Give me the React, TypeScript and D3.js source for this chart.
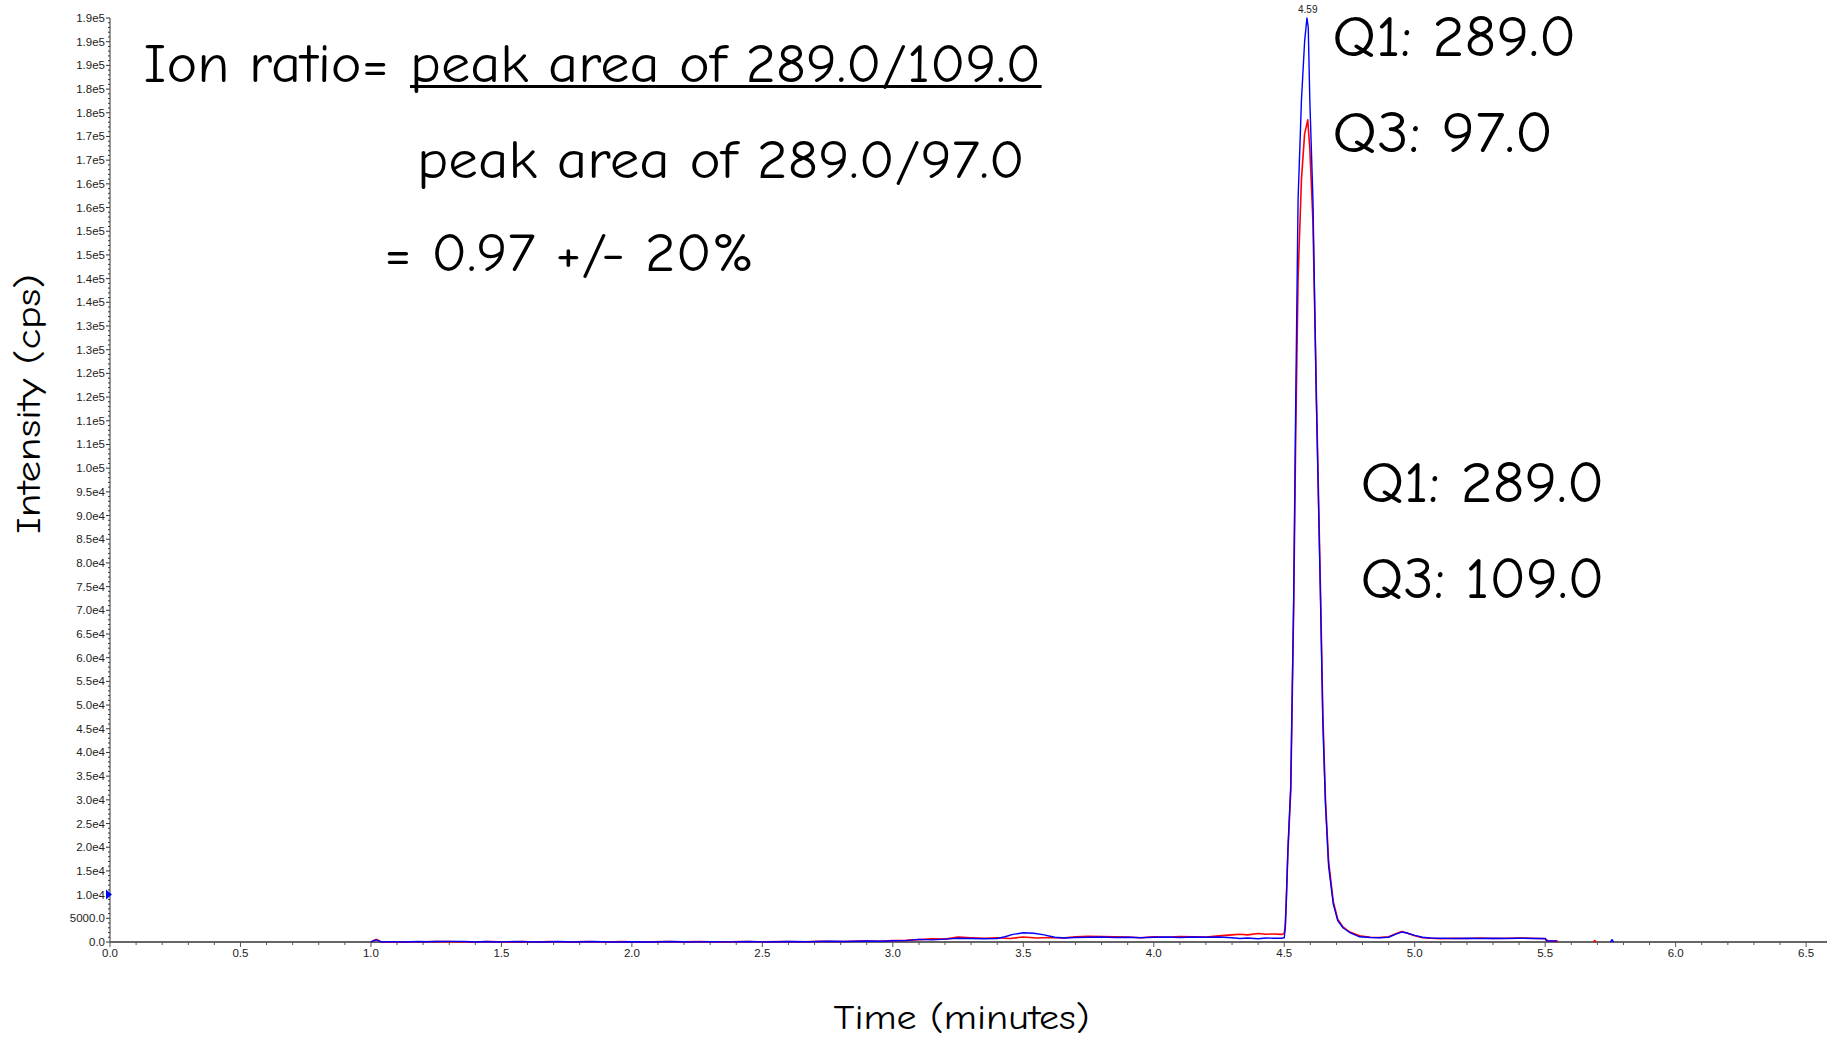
import React from 'react';
import * as d3 from 'd3';

type Pt = [number, number | null];

// Y tick labels (one every 5000 cps), as printed by the instrument software
const yTickLabels = [
  '0.0', '5000.0', '1.0e4', '1.5e4', '2.0e4', '2.5e4', '3.0e4', '3.5e4', '4.0e4', '4.5e4',
  '5.0e4', '5.5e4', '6.0e4', '6.5e4', '7.0e4', '7.5e4', '8.0e4', '8.5e4', '9.0e4', '9.5e4',
  '1.0e5', '1.1e5', '1.1e5', '1.2e5', '1.2e5', '1.3e5', '1.3e5', '1.4e5', '1.4e5', '1.5e5',
  '1.5e5', '1.6e5', '1.6e5', '1.7e5', '1.7e5', '1.8e5', '1.8e5', '1.9e5', '1.9e5', '1.9e5',
];
const yTickStep = 5000;
const xTickLabels = ['0.0', '0.5', '1.0', '1.5', '2.0', '2.5', '3.0', '3.5', '4.0', '4.5', '5.0', '5.5', '6.0', '6.5'];

// Blue trace: Q1 289.0 / Q3 97.0
const blueTrace: Pt[] = [
  [1.00, 0], [1.01, 250], [1.02, 450], [1.03, 250], [1.04, 0], [1.08, 80], [1.12, 0], [1.18, 100],
  [1.22, 60], [1.25, 120], [1.30, 140], [1.36, 120], [1.40, 0], [1.44, 90], [1.48, 0], [1.55, 100],
  [1.60, 50], [1.66, 0], [1.72, 100], [1.78, 0], [1.85, 90], [1.92, 0], [2.00, 60], [2.08, 0],
  [2.15, 100], [2.22, 0], [2.30, 80], [2.38, 20], [2.45, 100], [2.52, 0], [2.60, 120], [2.68, 60],
  [2.75, 150], [2.82, 120], [2.90, 200], [2.96, 150], [3.00, 250],
  [3.05, 300], [3.10, 550], [3.15, 450], [3.20, 600], [3.25, 800], [3.30, 750], [3.35, 700],
  [3.40, 750], [3.43, 1100], [3.46, 1600], [3.50, 1950], [3.54, 1850], [3.58, 1500], [3.62, 1000],
  [3.66, 850], [3.70, 950], [3.75, 1000], [3.80, 1050], [3.85, 950], [3.90, 1000], [3.95, 900],
  [4.00, 1000], [4.05, 1050], [4.10, 950], [4.15, 1050], [4.20, 1000], [4.25, 1050], [4.30, 900],
  [4.33, 750], [4.36, 850], [4.40, 700], [4.43, 850], [4.46, 800], [4.49, 800],
  [4.500, 900], [4.504, 3000], [4.508, 8900], [4.514, 19400], [4.525, 33000], [4.536, 72000],
  [4.544, 114000], [4.553, 156600], [4.566, 177700], [4.578, 190000], [4.587, 195000],
  [4.592, 193000], [4.598, 177700], [4.610, 156600], [4.623, 114400], [4.639, 72200],
  [4.648, 46000], [4.658, 29000], [4.670, 16000], [4.688, 8000], [4.705, 4500], [4.725, 3000],
  [4.751, 2000], [4.789, 1100], [4.83, 950], [4.866, 900],
  [4.90, 1000], [4.93, 1700], [4.95, 2100], [4.97, 1900], [5.00, 1400], [5.03, 1000], [5.06, 850],
  [5.10, 800], [5.15, 750], [5.20, 800], [5.25, 750], [5.30, 800], [5.35, 750], [5.40, 800],
  [5.45, 750], [5.50, 750], [5.505, 250], [5.545, 200], [5.55, null],
  [5.75, 0], [5.756, 500], [5.762, 0],
];

// Red trace: Q1 289.0 / Q3 109.0
const redTrace: Pt[] = [
  [1.00, 0], [1.01, 300], [1.02, 550], [1.03, 300], [1.04, 0], [1.10, 60], [1.16, 0], [1.24, 120],
  [1.30, 80], [1.38, 0], [1.46, 120], [1.52, 0], [1.58, 80], [1.64, 0], [1.68, 110], [1.76, 0],
  [1.82, 100], [1.90, 0], [1.96, 80], [2.04, 0], [2.12, 90], [2.20, 30], [2.26, 110], [2.34, 0],
  [2.42, 100], [2.50, 40], [2.58, 110], [2.66, 40], [2.72, 160], [2.80, 100], [2.88, 220],
  [2.95, 160], [3.00, 280],
  [3.05, 350], [3.10, 500], [3.15, 650], [3.20, 600], [3.25, 1050], [3.30, 900], [3.35, 800],
  [3.40, 900], [3.45, 750], [3.50, 1050], [3.55, 850], [3.60, 950], [3.65, 850], [3.70, 1100],
  [3.75, 1200], [3.80, 1150], [3.85, 1100], [3.90, 1050], [3.95, 900], [4.00, 1100], [4.05, 1000],
  [4.10, 1150], [4.15, 1100], [4.20, 1050], [4.25, 1300], [4.30, 1500], [4.33, 1650], [4.36, 1500],
  [4.40, 1800], [4.43, 1650], [4.46, 1700], [4.49, 1600],
  [4.500, 1800], [4.504, 3500], [4.508, 9000], [4.514, 19000], [4.525, 32000], [4.536, 70000],
  [4.544, 107000], [4.553, 140000], [4.566, 161000], [4.578, 170500], [4.590, 173500],
  [4.598, 167500], [4.610, 152000], [4.623, 116000], [4.639, 74000], [4.648, 48000],
  [4.658, 30000], [4.670, 17000], [4.688, 8500], [4.705, 4800], [4.725, 3200], [4.751, 2100],
  [4.789, 1300], [4.83, 1000], [4.866, 950],
  [4.90, 1100], [4.93, 1800], [4.95, 2200], [4.97, 1900], [5.00, 1300], [5.03, 900], [5.06, 800],
  [5.10, 700], [5.15, 800], [5.20, 750], [5.25, 850], [5.30, 750], [5.35, 800], [5.40, 850],
  [5.45, 800], [5.50, 700], [5.51, 250], [5.55, 150], [5.56, null],
  [5.685, 0], [5.69, 300], [5.695, 0],
];

const peakTime = 4.59;
const peakLabel = '4.59';
const markerValue = 10000;

const FONT = "'Comic Sans MS', 'Comic Neue', 'Noto Sans', 'DejaVu Sans', sans-serif";
const TICKFONT = "'Liberation Sans', Arial, Helvetica, sans-serif";

export default function App() {
  const x = d3.scaleLinear().domain([0, 6.58]).range([110, 1827]);
  const y = d3.scaleLinear().domain([0, 195000]).range([942, 18]);
  const line = d3
    .line<Pt>()
    .defined((d) => d[1] !== null)
    .x((d) => x(d[0]))
    .y((d) => y(d[1] as number));

  const yMinor = d3.range(0, 195001, 1000);
  const xMinor = d3.range(0, 66).map((i) => i / 10);
  const x0 = x(0);
  const y0 = y(0);

  const peakVal = d3.max(blueTrace, (d) => d[1] ?? 0) as number;

  return (
    <div style={{ position: 'absolute', left: 0, top: 0, width: 1831, height: 1037, background: '#fff' }}>
      <svg width={1831} height={1037} style={{ display: 'block' }}>
        <rect x={0} y={0} width={1831} height={1037} fill="#fff" />
        {/* y axis */}
        <line x1={x0} x2={x0} y1={y0} y2={y(195000)} stroke="#333" strokeWidth={1} />
        {yMinor.map((v) => (
          <line key={'ym' + v} x1={x0 - (v % 5000 === 0 ? 4 : 2)} x2={x0} y1={y(v)} y2={y(v)} stroke="#333" strokeWidth={1} />
        ))}
        {yTickLabels.map((lab, i) => (
          <text key={'yl' + i} x={x0 - 5} y={y(i * yTickStep)} dy="0.35em" textAnchor="end" fontFamily={TICKFONT} fontSize={11.5} fill="#222">
            {lab}
          </text>
        ))}
        {/* x axis */}
        <line x1={x0} x2={x(6.58)} y1={y0} y2={y0} stroke="#666" strokeWidth={2} />
        {xMinor.map((t, i) => (
          <line key={'xm' + i} x1={x(t)} x2={x(t)} y1={y0} y2={y0 + (i % 5 === 0 ? 5 : 3)} stroke="#555" strokeWidth={1} />
        ))}
        {xTickLabels.map((lab) => (
          <text key={'xl' + lab} x={x(parseFloat(lab))} y={y0 + 15} textAnchor="middle" fontFamily={TICKFONT} fontSize={11.5} fill="#222">
            {lab}
          </text>
        ))}
        {/* traces */}
        <path d={line(redTrace) || ''} fill="none" stroke="#ff0000" strokeWidth={1.6} strokeLinejoin="round" />
        <path d={line(blueTrace) || ''} fill="none" stroke="#0000ff" strokeWidth={1.4} strokeLinejoin="round" />
        {/* peak label */}
        <text x={x(peakTime)} y={y(peakVal) - 5} textAnchor="middle" fontFamily={TICKFONT} fontSize={10} fill="#222">
          {peakLabel}
        </text>
        {/* marker on y axis */}
        <path
          d={`M${x0 - 4},${y(markerValue) - 5} L${x0 + 2},${y(markerValue)} L${x0 - 4},${y(markerValue) + 5} Z`}
          fill="#0000ff"
        />
        {/* axis titles */}
        <text
          transform={`translate(${40},${404}) rotate(-90)`}
          textAnchor="middle"
          fontFamily={FONT}
          fontSize={34}
          fill="#000"
          textLength={260}
          lengthAdjust="spacingAndGlyphs"
        >
          Intensity (cps)
        </text>
        <text x={961.5} y={1029} textAnchor="middle" fontFamily={FONT} fontSize={34} fill="#000" textLength={256} lengthAdjust="spacingAndGlyphs">
          Time (minutes)
        </text>
        {/* annotations */}
        <text x={143.6} y={81.7} fontFamily={FONT} fontSize={54} fill="#000" textLength={245} lengthAdjust="spacingAndGlyphs">
          Ion ratio=
        </text>
        <text x={410} y={81.7} fontFamily={FONT} fontSize={54} fill="#000" textLength={631} lengthAdjust="spacingAndGlyphs">
          peak area of 289.0/109.0
        </text>
        <line x1={410} x2={1041.6} y1={86.5} y2={86.5} stroke="#000" strokeWidth={3} />
        <text x={416.9} y={177.5} fontFamily={FONT} fontSize={54} fill="#000" textLength={608} lengthAdjust="spacingAndGlyphs">
          peak area of 289.0/97.0
        </text>
        <text x={384.2} y={271} fontFamily={FONT} fontSize={54} fill="#000" textLength={370} lengthAdjust="spacingAndGlyphs">
          = 0.97 +/- 20%
        </text>
        <text x={1332.3} y={56} fontFamily={FONT} fontSize={58} fill="#000" textLength={244} lengthAdjust="spacingAndGlyphs">
          Q1: 289.0
        </text>
        <text x={1332.3} y={151.8} fontFamily={FONT} fontSize={58} fill="#000" textLength={221} lengthAdjust="spacingAndGlyphs">
          Q3: 97.0
        </text>
        <text x={1360.4} y={502} fontFamily={FONT} fontSize={58} fill="#000" textLength={244} lengthAdjust="spacingAndGlyphs">
          Q1: 289.0
        </text>
        <text x={1360.4} y={597.9} fontFamily={FONT} fontSize={58} fill="#000" textLength={244} lengthAdjust="spacingAndGlyphs">
          Q3: 109.0
        </text>
      </svg>
    </div>
  );
}
